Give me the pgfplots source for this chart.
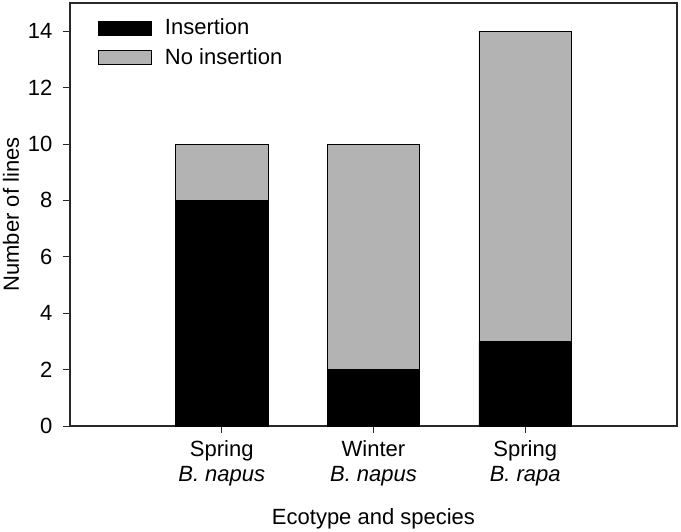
\documentclass[border=0pt]{standalone}
\usepackage{fontspec}
\setmainfont{Liberation Sans}
\usepackage{pgfplots}
\pgfplotsset{compat=1.18}
\definecolor{bargray}{RGB}{179,179,179}
\definecolor{axgray}{RGB}{40,40,40}
\begin{document}
\fontsize{22}{26}\selectfont
\begin{tikzpicture}
\begin{axis}[
  scale only axis,
  width=607pt, height=423pt,
  xmin=0, xmax=4, ymin=0, ymax=15,
  ybar stacked, bar width=0.61,
  xtick={1,2,3},
  xticklabels={{Spring\\\textit{B. napus}},{Winter\\\textit{B. napus}},{Spring\\\textit{B. rapa}}},
  xticklabel style={align=center, font=\fontsize{22}{25}\selectfont},
  yticklabel style={xshift=-3pt},
  ytick={0,2,...,14},
  /pgf/number format/assume math mode=true,
  tick pos=left, tick align=outside,
  major tick length=7pt,
  tick style={line width=1pt, color=axgray},
  axis line style={line width=1.4pt, color=axgray},
  xlabel={Ecotype and species},
  ylabel={Number of lines},
  xlabel style={at={(axis description cs:0.5,-0.22)}, anchor=center},
  ylabel style={at={(axis description cs:-0.097,0.5)}, anchor=center},
  legend style={at={(axis description cs:0.046,0.963)}, anchor=north west,
    draw=none, fill=none, inner sep=0pt, row sep=10pt, column sep=13pt,
    nodes={inner sep=0pt}},
  legend cell align=left,
  legend image code/.code={\draw[#1] (0pt,-7pt) rectangle (53pt,7pt);},
]
\addplot[fill=black, draw=black, line width=0.8pt] coordinates {(1,8) (2,2) (3,3)};
\addplot[fill=bargray, draw=black, line width=0.8pt] coordinates {(1,2) (2,8) (3,11)};
\legend{Insertion, No insertion}
\coordinate (sw) at (rel axis cs:0,0);
\coordinate (ne) at (rel axis cs:1,1);
\end{axis}
\pgfresetboundingbox
\path[use as bounding box] ([shift={(-70pt,-105pt)}]sw) rectangle ([shift={(4pt,3pt)}]ne);
\end{tikzpicture}
\end{document}
